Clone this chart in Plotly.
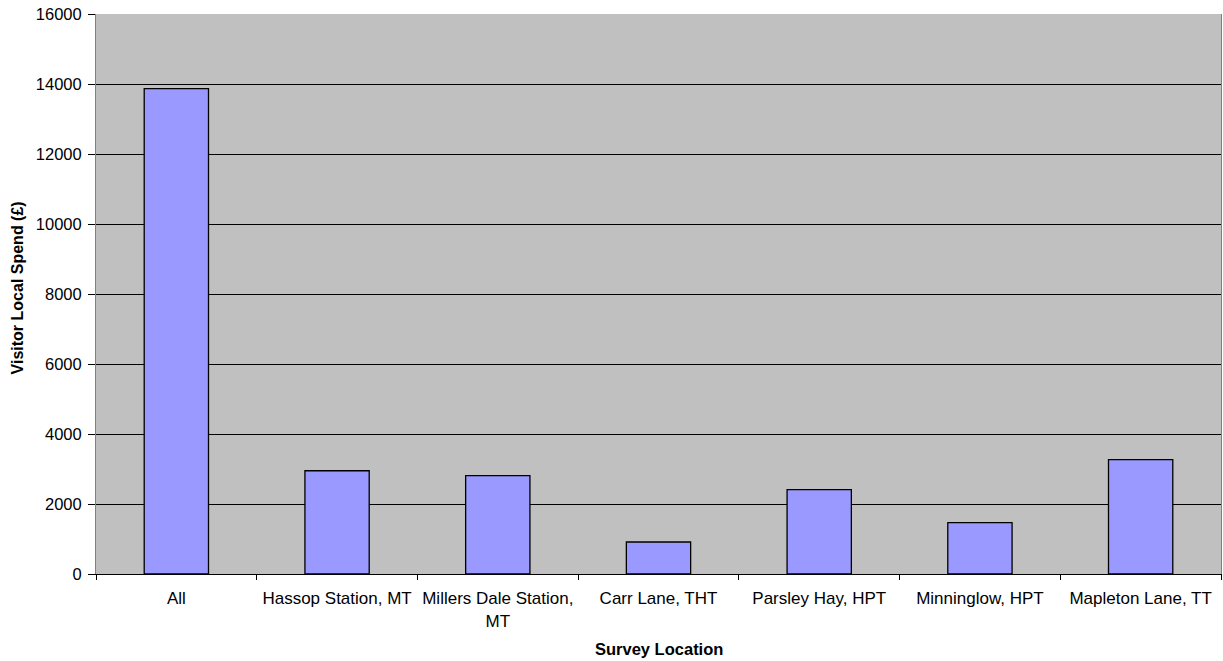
import plotly.graph_objects as go

# Visitor local spend by survey location
locations = [
    "All",
    "Hassop Station, MT",
    "Millers Dale Station,<br>MT",
    "Carr Lane, THT",
    "Parsley Hay, HPT",
    "Minninglow, HPT",
    "Mapleton Lane, TT",
]
spend = [13870, 2950, 2810, 915, 2410, 1467, 3267]

y_ticks = [0, 2000, 4000, 6000, 8000, 10000, 12000, 14000, 16000]
y_tick_labels = [str(v) for v in y_ticks]

FONT = "Arial, Liberation Sans, sans-serif"

fig = go.Figure(
    go.Bar(
        x=locations,
        y=spend,
        marker=dict(color="#9999FF", line=dict(color="#000000", width=1.3)),
    )
)

fig.update_layout(
    width=1223,
    height=661,
    margin=dict(l=96, r=2, t=14, b=87),
    paper_bgcolor="#FFFFFF",
    plot_bgcolor="#C0C0C0",
    bargap=0.6,
    showlegend=False,
    font=dict(family=FONT, size=16, color="#000000"),
    annotations=[
        dict(
            text="<b>Survey Location</b>",
            xref="paper", yref="paper",
            x=0.5, y=-75 / 560,
            xanchor="center", yanchor="middle",
            showarrow=False,
            font=dict(family=FONT, size=16.5, color="#000000"),
        ),
        dict(
            text="<b>Visitor Local Spend (£)</b>",
            xref="paper", yref="paper",
            x=-79 / 1125, y=0.51,
            xanchor="center", yanchor="middle",
            textangle=-90,
            showarrow=False,
            font=dict(family=FONT, size=16, color="#000000"),
        ),
    ],
)

fig.update_xaxes(
    type="category",
    tickson="boundaries",
    ticks="outside",
    ticklen=5,
    tickcolor="#000000",
    ticklabelstandoff=9,
    showline=True,
    linecolor="#000000",
    linewidth=1,
    mirror=False,
    showgrid=False,
    tickfont=dict(family=FONT, size=17, color="#000000"),
)

fig.update_yaxes(
    range=[0, 16000],
    tickvals=y_ticks,
    ticktext=y_tick_labels,
    ticks="outside",
    ticklen=7,
    tickcolor="#000000",
    ticklabelstandoff=3,
    showline=True,
    linecolor="#808080",
    linewidth=1,
    mirror=True,
    showgrid=True,
    gridcolor="#000000",
    gridwidth=1,
    zeroline=False,
    tickfont=dict(family=FONT, size=16.5, color="#000000"),
)

fig.write_html("out.html")
